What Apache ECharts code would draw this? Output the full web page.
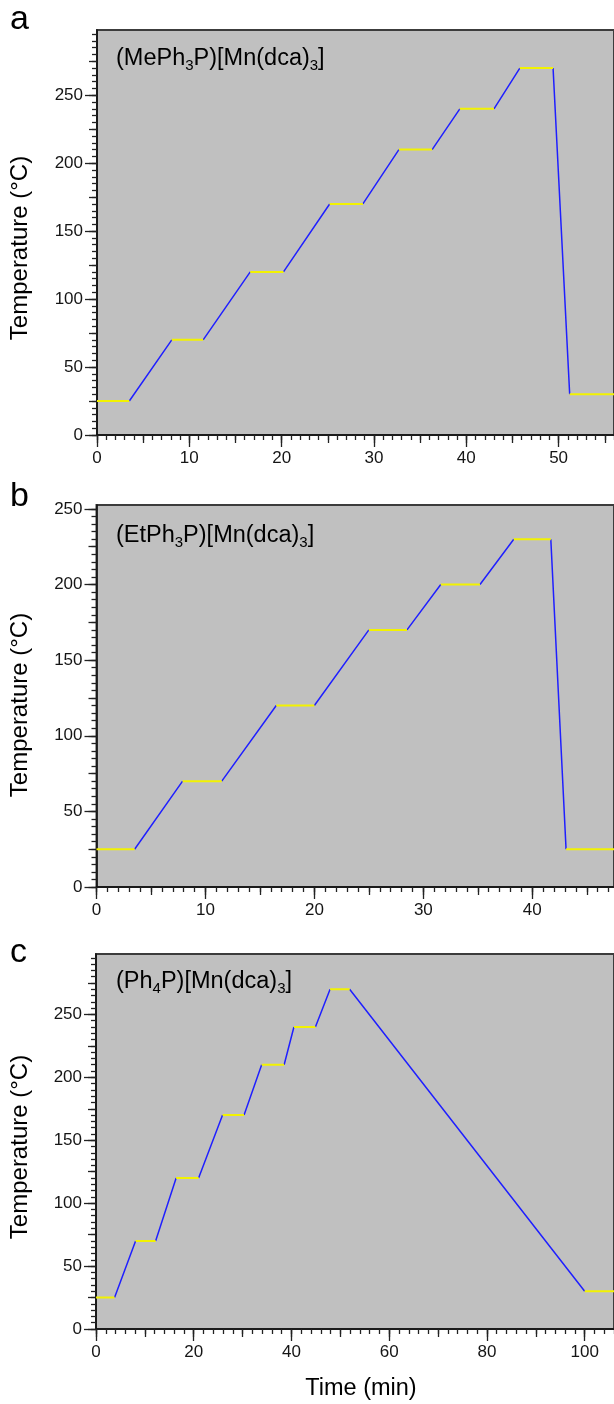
<!DOCTYPE html>
<html>
<head>
<meta charset="utf-8">
<script src="https://cdn.jsdelivr.net/npm/echarts@6/dist/echarts.min.js"></script>
<style>
  html, body { margin: 0; padding: 0; background: #fff; overflow: hidden; }
  #chart { width: 614px; height: 1404px; }
</style>
</head>
<body>
<div id="chart"></div>
<script>
// Temperature programmes, as breakpoints (time in min, temperature in °C).
// Segments alternate: hold, ramp, hold, ramp, ... starting with a hold.
const timeA = [0, 3.5, 8.1, 11.5, 16.6, 20.2, 25.2, 28.8, 32.7, 36.3, 39.3, 43.0, 45.8, 49.4, 51.2, 56];
const tempA = [25, 25, 70, 70, 120, 120, 170, 170, 210, 210, 240, 240, 270, 270, 30, 30];

const timeB = [0, 3.5, 7.9, 11.5, 16.5, 20.0, 25.0, 28.5, 31.6, 35.2, 38.3, 41.7, 43.1, 48];
const tempB = [25, 25, 70, 70, 120, 120, 170, 170, 200, 200, 230, 230, 25, 25];

const timeC = [0, 3.8, 8.1, 12.2, 16.4, 21.0, 25.9, 30.3, 33.9, 38.5, 40.5, 44.9, 47.9, 51.9, 100, 107];
const tempC = [25, 25, 70, 70, 120, 120, 170, 170, 210, 210, 240, 240, 270, 270, 30, 30];

// Labelled tick values
const xLabelsA = [0, 10, 20, 30, 40, 50];
const xLabelsB = [0, 10, 20, 30, 40];
const xLabelsC = [0, 20, 40, 60, 80, 100];
const yLabelsA = [0, 50, 100, 150, 200, 250];
const yLabelsB = [0, 50, 100, 150, 200, 250];
const yLabelsC = [0, 50, 100, 150, 200, 250];

const titles = ['(MePh{s|3}P)[Mn(dca){s|3}]', '(EtPh{s|3}P)[Mn(dca){s|3}]', '(Ph{s|4}P)[Mn(dca){s|3}]'];
const letters = ['a', 'b', 'c'];

const FONT = 'Liberation Sans, Arial, Helvetica, sans-serif';
const HOLD = '#f2f200';
const RAMP = '#1f1fff';
const INK = '#151515';

// Panel frames: plot rectangle, axis ranges and text anchors
const panels = [
  { left: 97, top: 30, height: 405, xMax: 56, pxPerMin: 9.49, yMax: 298,
    xStep: [10, 5, 1], yStep: [50, 25, 5], xLabels: xLabelsA, yLabels: yLabelsA, t: timeA, T: tempA,
    letterY: 20, titleY: 59, yTitleY: 248 },
  { left: 96.5, top: 505, height: 382, xMax: 47.5, pxPerMin: 11.17, yMax: 252.6,
    xStep: [10, 5, 1], yStep: [50, 25, 5], xLabels: xLabelsB, yLabels: yLabelsB, t: timeB, T: tempB,
    letterY: 497, titleY: 536, yTitleY: 705 },
  { left: 96, top: 954, height: 375, xMax: 106, pxPerMin: 4.99, yMax: 298,
    xStep: [20, 10, 2], yStep: [50, 25, 5], xLabels: xLabelsC, yLabels: yLabelsC, t: timeC, T: tempC,
    letterY: 953, titleY: 982, yTitleY: 1147 }
];

function steps(max, step) {
  const out = [];
  for (let v = 0; v <= max + 1e-9; v += step) out.push(+v.toFixed(6));
  return out;
}

const grid = [], xAxis = [], yAxis = [], series = [], graphic = [];
const tickLen = [12, 8, 5];

panels.forEach((p, pi) => {
  const width = p.xMax * p.pxPerMin;
  for (let level = 0; level < 3; level++) {
    const gi = grid.length;
    const main = level === 0;
    grid.push({
      left: p.left, top: p.top, width: width, height: p.height,
      show: main, backgroundColor: '#c0c0c0',
      borderColor: '#3c3c3c', borderWidth: main ? 2 : 0
    });
    xAxis.push({
      type: 'value', gridIndex: gi, min: 0, max: p.xMax, position: 'bottom',
      axisLine: { show: main, onZero: false, lineStyle: { color: '#111', width: 1.6 } },
      axisTick: { show: true, inside: false, length: tickLen[level],
        customValues: steps(p.xMax, p.xStep[level]),
        lineStyle: { color: '#222', width: 1.3 } },
      axisLabel: { show: main, customValues: p.xLabels, margin: 15,
        fontFamily: FONT, fontSize: 17, color: INK },
      splitLine: { show: false }
    });
    yAxis.push({
      type: 'value', gridIndex: gi, min: 0, max: p.yMax, position: 'left',
      axisLine: { show: main, onZero: false, lineStyle: { color: '#111', width: 1.6 } },
      axisTick: { show: true, inside: false, length: tickLen[level],
        customValues: steps(p.yMax, p.yStep[level]),
        lineStyle: { color: '#222', width: 1.3 } },
      axisLabel: { show: main, customValues: p.yLabels, margin: 14,
        fontFamily: FONT, fontSize: 17, color: INK },
      splitLine: { show: false }
    });
    if (main) {
      // hold segments (even index) in yellow, ramps (odd index) in blue
      const holds = [], ramps = [];
      for (let i = 0; i < p.t.length - 1; i++) {
        const target = i % 2 === 0 ? holds : ramps;
        target.push([p.t[i], p.T[i]], [p.t[i + 1], p.T[i + 1]], [p.t[i + 1], '-']);
      }
      series.push({
        type: 'line', xAxisIndex: gi, yAxisIndex: gi, data: ramps,
        showSymbol: false, connectNulls: false, silent: true, z: 3,
        lineStyle: { color: RAMP, width: 1.5 }
      });
      series.push({
        type: 'line', xAxisIndex: gi, yAxisIndex: gi, data: holds,
        showSymbol: false, connectNulls: false, silent: true, z: 4,
        lineStyle: { color: HOLD, width: 2 }
      });

      // panel letter
      graphic.push({ type: 'text', x: 10, y: p.letterY, silent: true,
        style: { text: letters[pi], fontFamily: FONT, fontSize: 34, fill: '#000',
          align: 'left', verticalAlign: 'middle' } });
      // compound name
      graphic.push({ type: 'text', x: 116, y: p.titleY, silent: true, z: 10,
        style: { text: titles[pi], fontFamily: FONT, fontSize: 23.5, fill: '#000',
          align: 'left', verticalAlign: 'middle', lineHeight: 28,
          rich: { s: { fontFamily: FONT, fontSize: 15, lineHeight: 13, verticalAlign: 'bottom', fill: '#000' } } } });
      // y-axis title
      graphic.push({ type: 'text', x: 20, y: p.yTitleY, rotation: Math.PI / 2, silent: true,
        style: { text: 'Temperature (°C)', fontFamily: FONT, fontSize: 24, fill: '#000',
          align: 'center', verticalAlign: 'middle' } });
    }
  }
});

graphic.push({ type: 'text', x: 361, y: 1389, silent: true,
  style: { text: 'Time (min)', fontFamily: FONT, fontSize: 23.5, fill: '#000',
    align: 'center', verticalAlign: 'middle' } });

const chart = echarts.init(document.getElementById('chart'), null, { renderer: 'canvas' });
chart.setOption({
  animation: false,
  backgroundColor: '#ffffff',
  grid, xAxis, yAxis, series, graphic
});
</script>
</body>
</html>
